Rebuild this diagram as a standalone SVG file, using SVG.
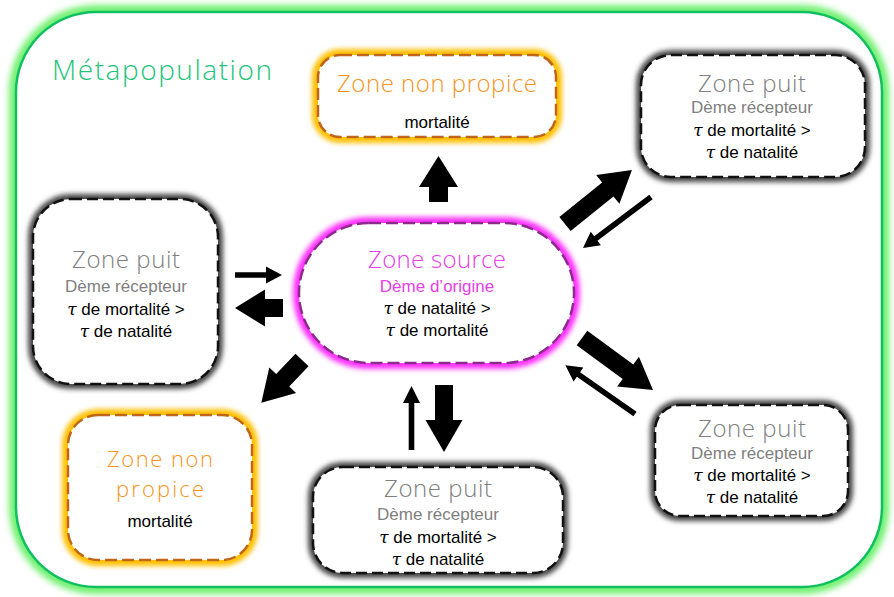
<svg xmlns="http://www.w3.org/2000/svg" width="894" height="597" viewBox="0 0 894 597">
<defs>
  <filter id="blur" x="-20%" y="-20%" width="140%" height="140%"><feGaussianBlur stdDeviation="2.8"/></filter>
  <filter id="blurBig" x="-10%" y="-10%" width="120%" height="120%"><feGaussianBlur stdDeviation="3"/></filter>
  <style>
    .head { font-family: "Open Sans", "Lato", "DejaVu Sans", sans-serif; font-weight: 300; font-size: 24px; text-anchor: middle; }
    .body { font-family: "Liberation Sans", Arial, sans-serif; font-size: 17px; text-anchor: middle; fill: #000; }
    .tau { font-family: "DejaVu Serif", "Liberation Serif", serif; font-style: italic; }
    .gray { fill: #808080; }
    .orange { fill: #f7951e; }
    .magenta { fill: #e640e6; }
    .glowGray { fill: none; stroke: #444; stroke-width: 10; filter: url(#blur); }
    .glowOrange { fill: none; stroke: #ffc000; stroke-width: 12; filter: url(#blur); }
    .glowMagenta { fill: none; stroke: #ff33ff; stroke-width: 12; filter: url(#blur); }
    .boxGray { fill: #fff; stroke: #111; stroke-width: 2.5; stroke-dasharray: 11 5; }
    .boxOrange { fill: #fff; stroke: #c0651a; stroke-width: 2.5; stroke-dasharray: 12 5; }
    .boxMagenta { fill: #fff; stroke: #8e2a8e; stroke-width: 2.5; stroke-dasharray: 12 5; }
    .arrow { fill: #000; }
  </style>
</defs>
<rect width="894" height="597" fill="#fff"/>

<g id="metapopulation">
  <rect x="16" y="12" width="866" height="575" rx="80" fill="none" stroke="#70f070" stroke-width="14" filter="url(#blurBig)"/>
  <rect x="16" y="12" width="866" height="575" rx="80" fill="#fff" stroke="#10c060" stroke-width="2.5"/>
  <text x="52" y="80" font-family="Open Sans, Lato, DejaVu Sans, sans-serif" font-weight="300" font-size="28" fill="#22c47a" textLength="220">Métapopulation</text>
</g>

<g id="non-propice-top">
  <rect class="glowOrange" x="318" y="55" width="238" height="82" rx="22"/>
  <rect class="boxOrange" x="318" y="55" width="238" height="82" rx="22"/>
  <text class="head orange" x="437" y="92" textLength="200">Zone non propice</text>
  <text class="body" x="437" y="128">mortalité</text>
</g>

<g id="source">
  <rect class="glowMagenta" x="299" y="223" width="275" height="140" rx="70"/>
  <rect class="boxMagenta" x="299" y="223" width="275" height="140" rx="70"/>
  <text class="head magenta" x="437" y="268" textLength="138">Zone source</text>
  <text class="body magenta" x="437" y="292">Dème d’origine</text>
  <text class="body" x="437" y="314"><tspan class="tau">τ</tspan> de natalité &gt;</text>
  <text class="body" x="437" y="336"><tspan class="tau">τ</tspan> de mortalité</text>
</g>

<g id="puit-left">
  <rect class="glowGray" x="33" y="199" width="185" height="185" rx="38"/>
  <rect class="boxGray" x="33" y="199" width="185" height="185" rx="38"/>
  <text class="head gray" x="126" y="268" textLength="108">Zone puit</text>
  <text class="body gray" x="126" y="292">Dème récepteur</text>
  <text class="body" x="126" y="315"><tspan class="tau">τ</tspan> de mortalité &gt;</text>
  <text class="body" x="126" y="337"><tspan class="tau">τ</tspan> de natalité</text>
</g>

<g id="puit-top-right">
  <rect class="glowGray" x="641" y="55" width="224" height="122" rx="30"/>
  <rect class="boxGray" x="641" y="55" width="224" height="122" rx="30"/>
  <text class="head gray" x="752" y="92" textLength="108">Zone puit</text>
  <text class="body gray" x="752" y="113">Dème récepteur</text>
  <text class="body" x="752" y="136"><tspan class="tau">τ</tspan> de mortalité &gt;</text>
  <text class="body" x="752" y="158"><tspan class="tau">τ</tspan> de natalité</text>
</g>

<g id="puit-bottom-right">
  <rect class="glowGray" x="655" y="405" width="193" height="111" rx="25"/>
  <rect class="boxGray" x="655" y="405" width="193" height="111" rx="25"/>
  <text class="head gray" x="752" y="437" textLength="108">Zone puit</text>
  <text class="body gray" x="752" y="459">Dème récepteur</text>
  <text class="body" x="752" y="481"><tspan class="tau">τ</tspan> de mortalité &gt;</text>
  <text class="body" x="752" y="503"><tspan class="tau">τ</tspan> de natalité</text>
</g>

<g id="puit-bottom">
  <rect class="glowGray" x="313" y="467" width="250" height="106" rx="30"/>
  <rect class="boxGray" x="313" y="467" width="250" height="106" rx="30"/>
  <text class="head gray" x="438" y="497" textLength="108">Zone puit</text>
  <text class="body gray" x="438" y="520">Dème récepteur</text>
  <text class="body" x="438" y="543"><tspan class="tau">τ</tspan> de mortalité &gt;</text>
  <text class="body" x="438" y="565"><tspan class="tau">τ</tspan> de natalité</text>
</g>

<g id="non-propice-bottom-left">
  <rect class="glowOrange" x="68" y="415" width="184" height="145" rx="30"/>
  <rect class="boxOrange" x="68" y="415" width="184" height="145" rx="30"/>
  <text class="head orange" x="160" y="467" font-size="22" style="font-size:22px" textLength="106">Zone non</text>
  <text class="head orange" x="160" y="497" style="font-size:22px" textLength="88">propice</text>
  <text class="body" x="160" y="527">mortalité</text>
</g>

<g id="connectors">
  <polygon class="arrow" transform="translate(438.5,202) rotate(-90)" points="0,-9.5 15,-9.5 15,-19.5 46,0 15,19.5 15,9.5 0,9.5"/>
  <polygon class="arrow" transform="translate(565,224) rotate(-38.9)" points="0,-9 55,-9 55,-18.5 86,0 55,18.5 55,9 0,9"/>
  <polygon class="arrow" transform="translate(283,308) rotate(180)" points="0,-9 18,-9 18,-18.5 48,0 18,18.5 18,9 0,9"/>
  <polygon class="arrow" transform="translate(302,360) rotate(133.6)" points="0,-9 28,-9 28,-18.5 59,0 28,18.5 28,9 0,9"/>
  <polygon class="arrow" transform="translate(444,385) rotate(90)" points="0,-9 35,-9 35,-18.5 67,0 35,18.5 35,9 0,9"/>
  <polygon class="arrow" transform="translate(582,338) rotate(36.2)" points="0,-9 57,-9 57,-18.5 88,0 57,18.5 57,9 0,9"/>
  <polygon class="arrow" transform="translate(235,275) rotate(0)" points="0,-2.8 31,-2.8 31,-8.5 47,0 31,8.5 31,2.8 0,2.8"/>
  <polygon class="arrow" transform="translate(651,197) rotate(143.1)" points="0,-2.8 69,-2.8 69,-8.5 85,0 69,8.5 69,2.8 0,2.8"/>
  <polygon class="arrow" transform="translate(411.5,450) rotate(-90)" points="0,-2.8 47,-2.8 47,-8.5 64,0 47,8.5 47,2.8 0,2.8"/>
  <polygon class="arrow" transform="translate(635,414) rotate(-145)" points="0,-2.8 69,-2.8 69,-8.5 85,0 69,8.5 69,2.8 0,2.8"/>
</g>
</svg>
